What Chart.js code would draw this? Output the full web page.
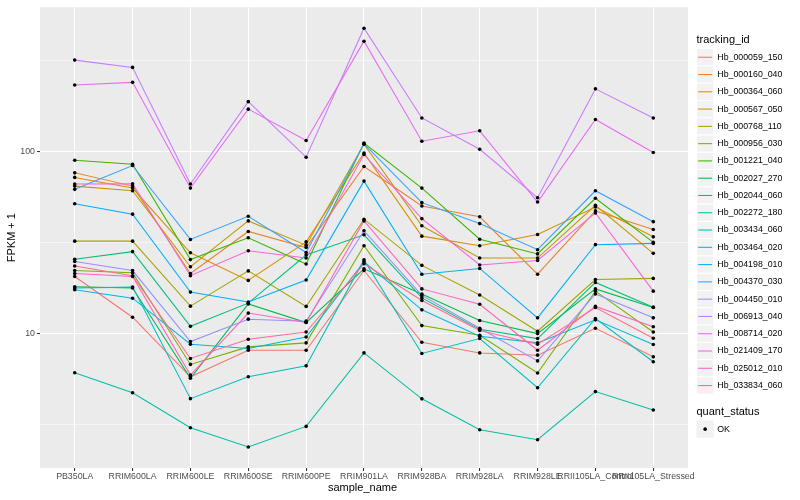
<!DOCTYPE html>
<html>
<head>
<meta charset="utf-8">
<script src="https://cdn.jsdelivr.net/npm/chart.js@4.4.1/dist/chart.umd.min.js"></script>
<style>
  html, body { margin: 0; padding: 0; background: #ffffff; }
  canvas { display: block; }
</style>
</head>
<body>
<canvas id="chart" width="800" height="500"></canvas>
<script>
// categories on the x axis
const sampleNames = ['PB350LA', 'RRIM600LA', 'RRIM600LE', 'RRIM600SE', 'RRIM600PE', 'RRIM901LA',
  'RRIM928BA', 'RRIM928LA', 'RRIM928LE', 'RRII105LA_Control', 'RRII105LA_Stressed'];

// FPKM + 1, one array per tracking_id
const hb_000059_150 = [20.6, 12.3, 5.79, 8.10, 8.10, 22.2, 8.96, 7.83, 7.61, 10.7, 7.45];
const hb_000160_040 = [76.4, 64.6, 21.4, 36.4, 29.7, 82.8, 50.2, 43.8, 21.2, 47.2, 37.3];
const hb_000364_060 = [72.1, 63.0, 27.8, 19.6, 31.9, 98.2, 34.3, 30.4, 35.0, 49.6, 34.0];
const hb_000567_050 = [64.6, 60.9, 23.3, 41.6, 30.6, 109.6, 39.1, 26.0, 26.0, 50.7, 27.6];
const hb_000768_110 = [32.2, 32.2, 14.15, 22.1, 14.1, 42.5, 23.7, 16.3, 10.3, 19.8, 20.1];
const hb_000956_030 = [22.2, 21.6, 6.77, 8.45, 8.89, 30.4, 11.06, 9.79, 6.07, 17.1, 10.2];
const hb_001221_040 = [89.6, 85.2, 25.5, 33.6, 24.1, 111.4, 63.0, 33.0, 27.4, 55.4, 31.7];
const hb_002027_270 = [18.1, 17.8, 5.68, 14.55, 11.5, 22.7, 16.5, 11.8, 10.0, 17.6, 13.9];
const hb_002044_060 = [25.6, 28.2, 10.96, 14.7, 27.0, 34.9, 15.7, 10.55, 9.39, 19.1, 13.97];
const hb_002272_180 = [6.09, 4.73, 3.04, 2.38, 3.09, 7.83, 4.38, 2.96, 2.61, 4.80, 3.80];
const hb_003434_060 = [17.8, 18.0, 4.39, 5.79, 6.65, 25.4, 7.78, 9.39, 5.04, 12.1, 7.00];
const hb_003464_020 = [17.4, 15.65, 8.74, 8.28, 9.58, 24.8, 13.5, 9.66, 8.89, 11.9, 8.71];
const hb_004198_010 = [51.7, 45.3, 16.9, 14.9, 19.7, 68.8, 21.2, 22.8, 12.2, 30.8, 31.3];
const hb_004370_030 = [62.0, 83.8, 32.9, 44.1, 27.9, 110.3, 52.4, 40.2, 28.9, 60.9, 41.2];
const hb_004450_010 = [24.9, 22.2, 9.04, 12.0, 11.7, 36.7, 16.2, 10.7, 7.08, 16.5, 12.2];
const hb_006913_040 = [318, 290, 66.3, 188, 93.1, 476, 153, 103, 55.8, 221, 153];
const hb_008714_020 = [232, 240, 63.0, 171, 115, 404, 114, 130, 52.8, 150, 98.8];
const hb_021409_170 = [66.3, 66.5, 20.8, 28.5, 26.0, 96.3, 42.8, 23.8, 25.2, 46.0, 17.1];
const hb_025012_010 = [21.4, 20.6, 5.92, 12.96, 11.5, 41.6, 17.6, 14.5, 8.1, 14.1, 10.9];
const hb_033834_060 = [23.5, 20.8, 7.30, 9.31, 10.2, 24.2, 15.2, 10.4, 8.74, 13.9, 9.43];

const trackingIds = ['Hb_000059_150', 'Hb_000160_040', 'Hb_000364_060', 'Hb_000567_050', 'Hb_000768_110',
  'Hb_000956_030', 'Hb_001221_040', 'Hb_002027_270', 'Hb_002044_060', 'Hb_002272_180', 'Hb_003434_060',
  'Hb_003464_020', 'Hb_004198_010', 'Hb_004370_030', 'Hb_004450_010', 'Hb_006913_040', 'Hb_008714_020',
  'Hb_021409_170', 'Hb_025012_010', 'Hb_033834_060'];
const seriesValues = [hb_000059_150, hb_000160_040, hb_000364_060, hb_000567_050, hb_000768_110,
  hb_000956_030, hb_001221_040, hb_002027_270, hb_002044_060, hb_002272_180, hb_003434_060,
  hb_003464_020, hb_004198_010, hb_004370_030, hb_004450_010, hb_006913_040, hb_008714_020,
  hb_021409_170, hb_025012_010, hb_033834_060];

// y axis: labelled breaks and the minor lines between them
const yBreaks = [10, 100];
const yMinorBreaks = [Math.sqrt(10), Math.sqrt(1000), Math.sqrt(100000)];

// ggplot hue palette, 20 levels
const palette = ['#F8766D', '#EA8331', '#D89000', '#C09B00', '#A3A500', '#7CAE00', '#39B600', '#00BB4E',
  '#00BF7D', '#00C1A3', '#00BFC4', '#00BAE0', '#00B0F6', '#35A2FF', '#9590FF', '#C77CFF', '#E76BF3',
  '#FA62DB', '#FF62BC', '#FF6C91'];

const FONT = '"Liberation Sans", Arial, Helvetica, sans-serif';

// log range with 5% padding like ggplot
const allVals = seriesValues.flat();
const lMin = Math.log10(Math.min(...allVals));
const lMax = Math.log10(Math.max(...allVals));
const lPad = (lMax - lMin) * 0.05;
const yLow = Math.pow(10, lMin - lPad);
const yHigh = Math.pow(10, lMax + lPad);

const isMajor = v => yBreaks.some(b => Math.abs(b - v) < 1e-9);

const datasets = seriesValues.map((vals, i) => ({
  type: 'line',
  label: trackingIds[i],
  data: vals.map((v, j) => ({ x: j, y: v })),
  borderColor: palette[i],
  borderWidth: 1.07,
  pointRadius: 0,
  tension: 0,
  fill: false,
  order: 1 + (seriesValues.length - 1 - i)
}));

// black points on top of every line (quant_status = OK)
datasets.push({
  type: 'scatter',
  label: 'OK',
  data: seriesValues.flatMap(vals => vals.map((v, j) => ({ x: j, y: v }))),
  backgroundColor: '#000000',
  borderWidth: 0,
  pointRadius: 1.8,
  pointStyle: 'circle',
  showLine: false,
  order: 0
});

const ggPlugin = {
  id: 'gg',
  beforeDraw(chart) {
    const { ctx, chartArea: a } = chart;
    ctx.save();
    ctx.fillStyle = '#FFFFFF';
    ctx.fillRect(0, 0, chart.width, chart.height);
    ctx.fillStyle = '#EBEBEB';
    ctx.fillRect(a.left, a.top, a.right - a.left, a.bottom - a.top);
    ctx.restore();
  },
  afterDraw(chart) {
    const { ctx, chartArea: a } = chart;
    ctx.save();
    // axis titles
    ctx.fillStyle = '#000000';
    ctx.font = '11px ' + FONT;
    ctx.textAlign = 'center';
    ctx.textBaseline = 'middle';
    ctx.fillText('sample_name', (a.left + a.right) / 2 - 1.5, 488);
    ctx.save();
    ctx.translate(12, (a.top + a.bottom) / 2);
    ctx.rotate(-Math.PI / 2);
    ctx.fillText('FPKM + 1', 0, 0);
    ctx.restore();

    // legend: tracking_id
    const lx = 696.5, key = 17.28;
    ctx.textAlign = 'left';
    ctx.font = '11px ' + FONT;
    ctx.fillText('tracking_id', lx, 40);
    let top = 48.6;
    ctx.font = '8.8px ' + FONT;
    trackingIds.forEach((id, i) => {
      const y0 = top + i * key;
      ctx.fillStyle = '#F2F2F2';
      ctx.fillRect(lx, y0, key, key);
      ctx.strokeStyle = '#FFFFFF';
      ctx.lineWidth = 1;
      ctx.strokeRect(lx, y0, key, key);
      ctx.strokeStyle = palette[i];
      ctx.lineWidth = 1.07;
      ctx.beginPath();
      ctx.moveTo(lx + 1.7, y0 + key / 2);
      ctx.lineTo(lx + key - 1.7, y0 + key / 2);
      ctx.stroke();
      ctx.fillStyle = '#000000';
      ctx.fillText(id, lx + key + 3.5, y0 + key / 2);
    });

    // legend: quant_status
    ctx.font = '11px ' + FONT;
    ctx.fillText('quant_status', lx, 411.7);
    const oy = 420.5;
    ctx.fillStyle = '#F2F2F2';
    ctx.fillRect(lx, oy, key, key);
    ctx.fillStyle = '#000000';
    ctx.beginPath();
    ctx.arc(lx + key / 2, oy + key / 2, 1.8, 0, Math.PI * 2);
    ctx.fill();
    ctx.font = '8.8px ' + FONT;
    ctx.fillText('OK', lx + key + 3.5, oy + key / 2);
    ctx.restore();
  }
};

new Chart(document.getElementById('chart'), {
  type: 'line',
  data: { datasets: datasets },
  options: {
    responsive: false,
    animation: false,
    events: [],
    layout: { padding: { left: 0, right: 112, top: 5, bottom: 0 } },
    plugins: {
      legend: { display: false },
      tooltip: { enabled: false }
    },
    scales: {
      x: {
        type: 'linear',
        min: -0.6,
        max: sampleNames.length - 1 + 0.6,
        bounds: 'data',
        afterBuildTicks: s => { s.ticks = sampleNames.map((n, i) => ({ value: i })); },
        afterFit: s => { s.height = 32; },
        grid: { color: '#FFFFFF', lineWidth: 1.07, tickLength: 3, tickColor: '#333333', tickWidth: 1.07 },
        border: { display: false },
        ticks: {
          callback: v => sampleNames[v],
          autoSkip: false, maxRotation: 0, minRotation: 0,
          color: '#4D4D4D', font: { family: FONT, size: 8.8 }, padding: 0.5
        }
      },
      y: {
        type: 'logarithmic',
        min: yLow,
        max: yHigh,
        bounds: 'data',
        afterBuildTicks: s => {
          s.ticks = yMinorBreaks.concat(yBreaks).sort((p, q) => p - q).map(v => ({ value: v }));
        },
        afterFit: s => { s.width = 40; },
        grid: {
          color: '#FFFFFF',
          lineWidth: c => (c.tick && isMajor(c.tick.value)) ? 1.07 : 0.53,
          tickLength: 3,
          tickWidth: 1.07,
          tickColor: c => (c.tick && isMajor(c.tick.value)) ? '#333333' : 'rgba(0,0,0,0)'
        },
        border: { display: false },
        ticks: {
          callback: v => isMajor(v) ? String(Math.round(v)) : '',
          autoSkip: false,
          color: '#4D4D4D', font: { family: FONT, size: 8.8 }, padding: 2
        }
      }
    }
  },
  plugins: [ggPlugin]
});
</script>
</body>
</html>
